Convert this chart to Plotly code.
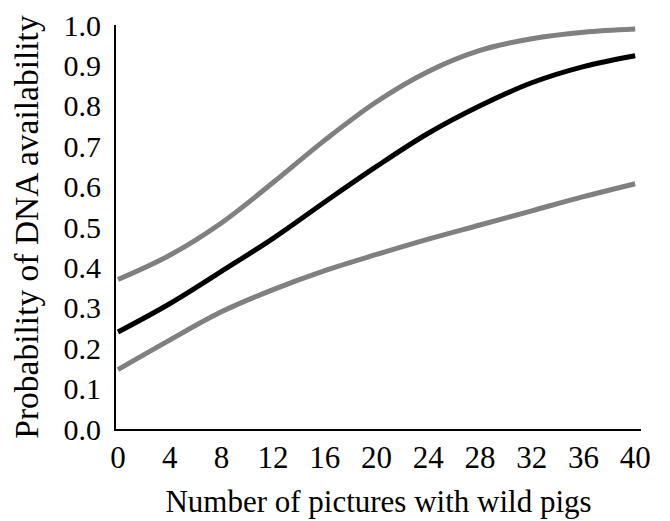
import plotly.graph_objects as go

x_vals = [0, 4, 8, 12, 16, 20, 24, 28, 32, 36, 40]
upper = [0.370, 0.430, 0.510, 0.610, 0.715, 0.810, 0.885, 0.937, 0.966, 0.982, 0.990]
mean = [0.240, 0.310, 0.390, 0.472, 0.562, 0.650, 0.732, 0.800, 0.857, 0.897, 0.924]
lower = [0.147, 0.220, 0.290, 0.345, 0.392, 0.432, 0.470, 0.505, 0.540, 0.575, 0.607]

x_ticks = [0, 4, 8, 12, 16, 20, 24, 28, 32, 36, 40]
y_ticks = [0.0, 0.1, 0.2, 0.3, 0.4, 0.5, 0.6, 0.7, 0.8, 0.9, 1.0]

fig = go.Figure()
for ys, col in [(upper, "#808080"), (lower, "#808080"), (mean, "#000000")]:
    fig.add_trace(go.Scatter(x=x_vals, y=ys, mode="lines",
                             line=dict(color=col, width=5, shape="spline", smoothing=1.0),
                             showlegend=False, hoverinfo="skip"))

font = "Liberation Serif, Times New Roman, serif"
fig.update_layout(
    width=662, height=513,
    margin=dict(l=108, r=29, t=17, b=92),
    paper_bgcolor="white", plot_bgcolor="white",
    font=dict(family=font, color="black"),
    xaxis=dict(range=[-0.15, 40.45], tickvals=x_ticks, ticktext=[str(v) for v in x_ticks],
               showgrid=False, zeroline=False, showline=True, linecolor="black", linewidth=2,
               ticks="", tickfont=dict(size=31, family=font, color="black"), automargin=False,
               ticklabeloverflow="allow",
               title=dict(text="Number of pictures with wild pigs", font=dict(size=31, family=font, color="black"), standoff=16)),
    yaxis=dict(range=[0, 1.0], tickvals=y_ticks, ticktext=[f"{v:.1f}" for v in y_ticks],
               showgrid=False, zeroline=False, showline=True, linecolor="black", linewidth=2,
               ticks="", tickfont=dict(size=30, family=font, color="black"), automargin=False,
               ticklabelstandoff=7, ticklabeloverflow="allow",
               title=dict(text="Probability of DNA availability", font=dict(size=33.5, family=font, color="black"), standoff=16)),
)
fig.write_html("out.html")
